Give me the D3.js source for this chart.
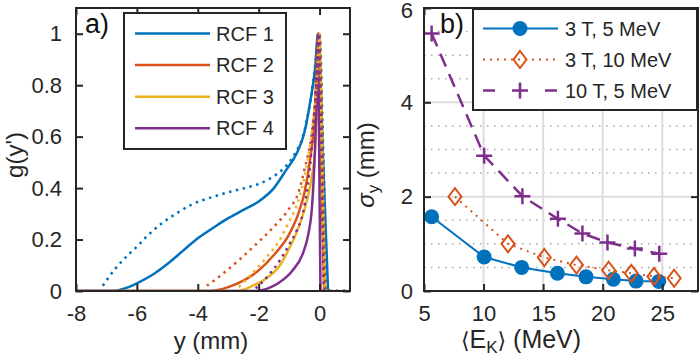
<!DOCTYPE html>
<html>
<head>
<meta charset="utf-8">
<script src="https://cdn.jsdelivr.net/npm/d3@7"></script>
<style>
  body { margin: 0; background: #fff; }
  svg { display: block; font-family: "Liberation Sans", Arial, sans-serif; }
  .tick text { fill: #262626; }
</style>
</head>
<body>
<svg id="chart" width="700" height="363"></svg>
<script>
// ---- panel a data: g(y') profiles, [y (mm), g] ----
const rcfNames = ["RCF 1", "RCF 2", "RCF 3", "RCF 4"]
const rcfColors = ["#0072BD", "#D95319", "#EDB120", "#7E2F8E"]

const rcf1Solid = [[-8,0],[-6.75,0],[-6.4,0.01],[-6.0,0.03],[-5.5,0.062],[-5.0,0.105],[-4.5,0.155],[-4.0,0.205],[-3.5,0.245],[-3.0,0.283],[-2.5,0.315],[-2.0,0.348],[-1.5,0.4],[-1.1,0.47],[-0.75,0.535],[-0.5,0.615],[-0.3,0.74],[-0.15,0.86],[-0.05,1.0],[0.12,0.5],[0.28,0]]
const rcf2Solid = [[-8,0],[-3.6,0],[-3.0,0.015],[-2.5,0.04],[-2.0,0.08],[-1.5,0.14],[-1.0,0.22],[-0.7,0.3],[-0.5,0.38],[-0.3,0.52],[-0.15,0.7],[-0.05,1],[0.05,0.5],[0.15,0]]
const rcf3Solid = [[-8,0],[-2.7,0],[-2.2,0.02],[-1.8,0.045],[-1.3,0.1],[-1.0,0.165],[-0.65,0.26],[-0.42,0.35],[-0.26,0.44],[-0.15,0.55],[-0.08,0.75],[-0.03,1],[0.07,0.5],[0.18,0]]
const rcf4Solid = [[-8,0],[-2.1,0],[-1.6,0.015],[-1.3,0.035],[-0.9,0.078],[-0.55,0.145],[-0.37,0.22],[-0.26,0.31],[-0.2,0.42],[-0.15,0.55],[-0.1,0.75],[-0.05,1],[-0.01,0.5],[0.03,0]]

const rcf1Dotted = [[-7.12,0.02],[-6.7,0.088],[-6.35,0.133],[-6.0,0.172],[-5.65,0.215],[-5.27,0.255],[-4.72,0.3],[-4.22,0.335],[-3.5,0.366],[-2.8,0.39],[-2.29,0.405],[-1.63,0.437],[-1.08,0.489],[-0.8,0.535],[-0.55,0.6],[-0.3,0.74],[-0.15,0.87],[0,1],[0.12,0.55],[0.25,0],[1,0]]
const rcf2Dotted = [[-3.7,0.02],[-3.2,0.065],[-2.6,0.125],[-2.1,0.18],[-1.5,0.25],[-1.0,0.32],[-0.7,0.38],[-0.5,0.47],[-0.25,0.62],[-0.1,0.8],[0,1],[0.1,0.5],[0.2,0],[1,0]]
const rcf3Dotted = [[-2.65,0.015],[-2.2,0.07],[-1.75,0.13],[-1.3,0.2],[-1.0,0.27],[-0.7,0.35],[-0.45,0.47],[-0.25,0.62],[-0.1,0.8],[0,1],[0.1,0.5],[0.2,0],[1,0]]
const rcf4Dotted = [[-2.1,0.01],[-1.65,0.065],[-1.3,0.12],[-1.0,0.18],[-0.75,0.235],[-0.55,0.3],[-0.4,0.4],[-0.3,0.5],[-0.2,0.65],[-0.1,0.82],[-0.02,1],[0.07,0.5],[0.15,0],[1,0]]

const aTicksX = [-8, -6, -4, -2, 0]
const aTicksY = [0, 0.2, 0.4, 0.6, 0.8, 1]

// ---- panel b data: sigma_y vs <E_K> ----
const seriesNames = ["3 T, 5 MeV", "3 T, 10 MeV", "10 T, 5 MeV"]
const energy3T5 = [5.64, 10.05, 13.2, 16.2, 18.6, 20.9, 22.8, 24.7]
const sigma3T5 = [1.575, 0.72, 0.5, 0.375, 0.3, 0.25, 0.21, 0.2]
const energy3T10 = [7.6, 12.05, 15.1, 17.8, 20.5, 22.4, 24.3, 26.0]
const sigma3T10 = [2.0, 1.0, 0.71, 0.55, 0.44, 0.375, 0.31, 0.27]
const energy10T5 = [5.64, 10.05, 13.26, 16.24, 18.3, 20.4, 22.7, 24.75]
const sigma10T5 = [5.46, 2.87, 2.01, 1.53, 1.22, 1.03, 0.9, 0.79]

const bTicksX = [5, 10, 15, 20, 25]
const bTicksY = [0, 2, 4, 6]
const bMinorY = [0.5, 1, 1.5, 2.5, 3, 3.5, 4.5, 5, 5.5]

const svg = d3.select("#chart")
const axisColor = "#262626"

function boxAxes(g, xScale, yScale, xTicks, yTicks, fmtY, padY) {
    g.append("g")
        .attr("transform", "translate(0," + yScale.range()[0] + ")")
        .call(d3.axisBottom(xScale).tickValues(xTicks).tickSizeInner(-7).tickSizeOuter(0).tickPadding(14))
    g.append("g")
        .attr("transform", "translate(0," + yScale.range()[1] + ")")
        .call(d3.axisTop(xScale).tickValues(xTicks).tickSizeInner(-7).tickSizeOuter(0).tickFormat(""))
    g.append("g")
        .attr("class", "yAxisLeft")
        .attr("transform", "translate(" + xScale.range()[0] + ",0)")
        .call(d3.axisLeft(yScale).tickValues(yTicks).tickSizeInner(-7).tickSizeOuter(0).tickPadding(padY).tickFormat(fmtY))
    g.append("g")
        .attr("transform", "translate(" + xScale.range()[1] + ",0)")
        .call(d3.axisRight(yScale).tickValues(yTicks).tickSizeInner(-7).tickSizeOuter(0).tickFormat(""))
    g.selectAll(".domain").remove()
    g.selectAll(".tick line").attr("stroke", axisColor).attr("stroke-width", 2)
    g.selectAll(".tick text").attr("font-size", 22).attr("font-family", "Liberation Sans, Arial, sans-serif")
    g.append("rect")
        .attr("x", xScale.range()[0]).attr("y", yScale.range()[1])
        .attr("width", xScale.range()[1] - xScale.range()[0])
        .attr("height", yScale.range()[0] - yScale.range()[1])
        .attr("fill", "none").attr("stroke", axisColor).attr("stroke-width", 2)
}

// ================= panel a =================
const xA = d3.scaleLinear().domain([-8, 1]).range([76, 350])
const yA = d3.scaleLinear().domain([0, 1.1]).range([291, 8])
const lineA = d3.line().x(d => xA(d[0])).y(d => yA(d[1])).curve(d3.curveMonotoneX)

const gA = svg.append("g")
gA.append("clipPath").attr("id", "clipA").append("rect")
    .attr("x", 76).attr("y", 8).attr("width", 274).attr("height", 283)

const plotA = gA.append("g").attr("clip-path", "url(#clipA)")
const solids = [rcf1Solid, rcf2Solid, rcf3Solid, rcf4Solid]
const dotteds = [rcf1Dotted, rcf2Dotted, rcf3Dotted, rcf4Dotted]

solids.forEach((s, i) => {
    plotA.append("path").attr("d", lineA(s))
        .attr("fill", "none").attr("stroke", rcfColors[i]).attr("stroke-width", 2.5)
})
dotteds.forEach((s, i) => {
    plotA.append("path").attr("d", lineA(s))
        .attr("fill", "none").attr("stroke", rcfColors[i]).attr("stroke-width", 2.5)
        .attr("stroke-dasharray", "2.5,4.5")
})

boxAxes(gA, xA, yA, aTicksX, aTicksY, d => d === 0 || d === 1 ? String(d) : d3.format(".1f")(d), 14)
gA.selectAll(".tick text").filter(function () { return this.textContent.startsWith("−") })
    .text(function () { return this.textContent.replace("−", "-") })

// legend a
const legA = gA.append("g")
legA.append("rect").attr("x", 124).attr("y", 13).attr("width", 162).attr("height", 136)
    .attr("fill", "#fff").attr("stroke", axisColor).attr("stroke-width", 2)
rcfNames.forEach((name, i) => {
    const yy = 33.5 + i * 31.6
    legA.append("line").attr("x1", 135).attr("x2", 210).attr("y1", yy).attr("y2", yy)
        .attr("stroke", rcfColors[i]).attr("stroke-width", 2.5)
    legA.append("text").attr("x", 216).attr("y", yy).attr("dy", "0.35em")
        .attr("font-size", 20).attr("fill", axisColor).text(name)
})

gA.append("text").attr("x", 85).attr("y", 33).attr("font-size", 27).attr("fill", "#111").text("a)")
gA.append("text").attr("x", 211).attr("y", 349).attr("text-anchor", "middle")
    .attr("font-size", 24).attr("fill", axisColor).text("y (mm)")
gA.append("text").attr("transform", "translate(23,155) rotate(-90)").attr("text-anchor", "middle")
    .attr("font-size", 24).attr("fill", axisColor).text("g(y')")

// ================= panel b =================
const xB = d3.scaleLinear().domain([5, 28]).range([424, 698])
const yB = d3.scaleLinear().domain([0, 6]).range([291, 8])
const gB = svg.append("g")

// grid
gB.selectAll(".minorY").data(bMinorY).join("line").attr("class", "minorY")
    .attr("x1", 424).attr("x2", 698).attr("y1", d => yB(d)).attr("y2", d => yB(d))
    .attr("stroke", "#a8a8a8").attr("stroke-width", 1.5).attr("stroke-dasharray", "1.5,5.5")
gB.selectAll(".gridX").data(bTicksX.filter(d => d > 5)).join("line").attr("class", "gridX")
    .attr("x1", d => xB(d)).attr("x2", d => xB(d)).attr("y1", 8).attr("y2", 291)
    .attr("stroke", "#dcdcdc").attr("stroke-width", 2)
gB.selectAll(".gridY").data([2, 4]).join("line").attr("class", "gridY")
    .attr("x1", 424).attr("x2", 698).attr("y1", d => yB(d)).attr("y2", d => yB(d))
    .attr("stroke", "#dcdcdc").attr("stroke-width", 2)

const lineB = d3.line().x(d => xB(d[0])).y(d => yB(d[1]))
const s1 = energy3T5.map((e, i) => [e, sigma3T5[i]])
const s2 = energy3T10.map((e, i) => [e, sigma3T10[i]])
const s3 = energy10T5.map((e, i) => [e, sigma10T5[i]])

function diamond(x, y) {
    return "M" + x + "," + (y - 8.5) + "L" + (x + 6.5) + "," + y + "L" + x + "," + (y + 8.5) + "L" + (x - 6.5) + "," + y + "Z"
}
function plus(x, y) {
    return "M" + (x - 8) + "," + y + "H" + (x + 8) + "M" + x + "," + (y - 8) + "V" + (y + 8)
}

// 3 T, 5 MeV
gB.append("path").attr("d", lineB(s1)).attr("fill", "none").attr("stroke", rcfColors[0]).attr("stroke-width", 2)
gB.selectAll(".circ").data(s1).join("circle").attr("class", "circ")
    .attr("cx", d => xB(d[0])).attr("cy", d => yB(d[1])).attr("r", 7.5).attr("fill", rcfColors[0])
// 3 T, 10 MeV
gB.append("path").attr("d", lineB(s2)).attr("fill", "none").attr("stroke", rcfColors[1])
    .attr("stroke-width", 2).attr("stroke-dasharray", "2,5")
gB.selectAll(".diam").data(s2).join("path").attr("class", "diam")
    .attr("d", d => diamond(xB(d[0]), yB(d[1]))).attr("fill", "none")
    .attr("stroke", rcfColors[1]).attr("stroke-width", 2)
// 10 T, 5 MeV
gB.append("path").attr("d", lineB(s3)).attr("fill", "none").attr("stroke", rcfColors[3])
    .attr("stroke-width", 2.5).attr("stroke-dasharray", "14,8")
gB.selectAll(".plus").data(s3).join("path").attr("class", "plus")
    .attr("d", d => plus(xB(d[0]), yB(d[1]))).attr("fill", "none")
    .attr("stroke", rcfColors[3]).attr("stroke-width", 2.5)

boxAxes(gB, xB, yB, bTicksX, bTicksY, d3.format("d"), 11)
// keep the top "6" inside the picture
gB.selectAll(".yAxisLeft .tick text").filter(d => d === 6).attr("dy", "0.45em")

// legend b
const legB = gB.append("g")
legB.append("rect").attr("x", 473).attr("y", 9).attr("width", 224).attr("height", 101)
    .attr("fill", "#fff").attr("stroke", axisColor).attr("stroke-width", 2)
const rowsB = [28.5, 59.5, 90.5]
legB.append("line").attr("x1", 483).attr("x2", 558).attr("y1", rowsB[0]).attr("y2", rowsB[0])
    .attr("stroke", rcfColors[0]).attr("stroke-width", 2)
legB.append("circle").attr("cx", 520).attr("cy", rowsB[0]).attr("r", 7.5).attr("fill", rcfColors[0])
legB.append("line").attr("x1", 483).attr("x2", 558).attr("y1", rowsB[1]).attr("y2", rowsB[1])
    .attr("stroke", rcfColors[1]).attr("stroke-width", 2).attr("stroke-dasharray", "2,5")
legB.append("path").attr("d", diamond(520, rowsB[1])).attr("fill", "none")
    .attr("stroke", rcfColors[1]).attr("stroke-width", 2)
legB.append("line").attr("x1", 483).attr("x2", 558).attr("y1", rowsB[2]).attr("y2", rowsB[2])
    .attr("stroke", rcfColors[3]).attr("stroke-width", 2.5).attr("stroke-dasharray", "12,50")
legB.append("path").attr("d", plus(520, rowsB[2])).attr("fill", "none")
    .attr("stroke", rcfColors[3]).attr("stroke-width", 2.5)
seriesNames.forEach((name, i) => {
    legB.append("text").attr("x", 565).attr("y", rowsB[i]).attr("dy", "0.35em")
        .attr("font-size", 20).attr("fill", axisColor).text(name)
})

gB.append("text").attr("x", 440).attr("y", 33).attr("font-size", 27).attr("fill", "#111").text("b)")

const xlabB = gB.append("text").attr("x", 521).attr("y", 348).attr("text-anchor", "middle")
    .attr("font-size", 25).attr("fill", axisColor)
xlabB.append("tspan").attr("font-family", "DejaVu Sans").attr("font-size", 22).text("\u27E8")
xlabB.append("tspan").text("E")
xlabB.append("tspan").attr("font-size", 17).attr("dy", 5).text("K")
xlabB.append("tspan").attr("dy", -5).attr("font-family", "DejaVu Sans").attr("font-size", 22).text("\u27E9")
xlabB.append("tspan").text(" (MeV)")

const ylabB = gB.append("text").attr("transform", "translate(374,165) rotate(-90)").attr("text-anchor", "middle")
    .attr("font-size", 24).attr("fill", axisColor)
ylabB.append("tspan").attr("font-style", "italic").text("\u03C3")
ylabB.append("tspan").attr("font-size", 17).attr("dy", 5).text("y")
ylabB.append("tspan").attr("dy", -5).text(" (mm)")
</script>
</body>
</html>
